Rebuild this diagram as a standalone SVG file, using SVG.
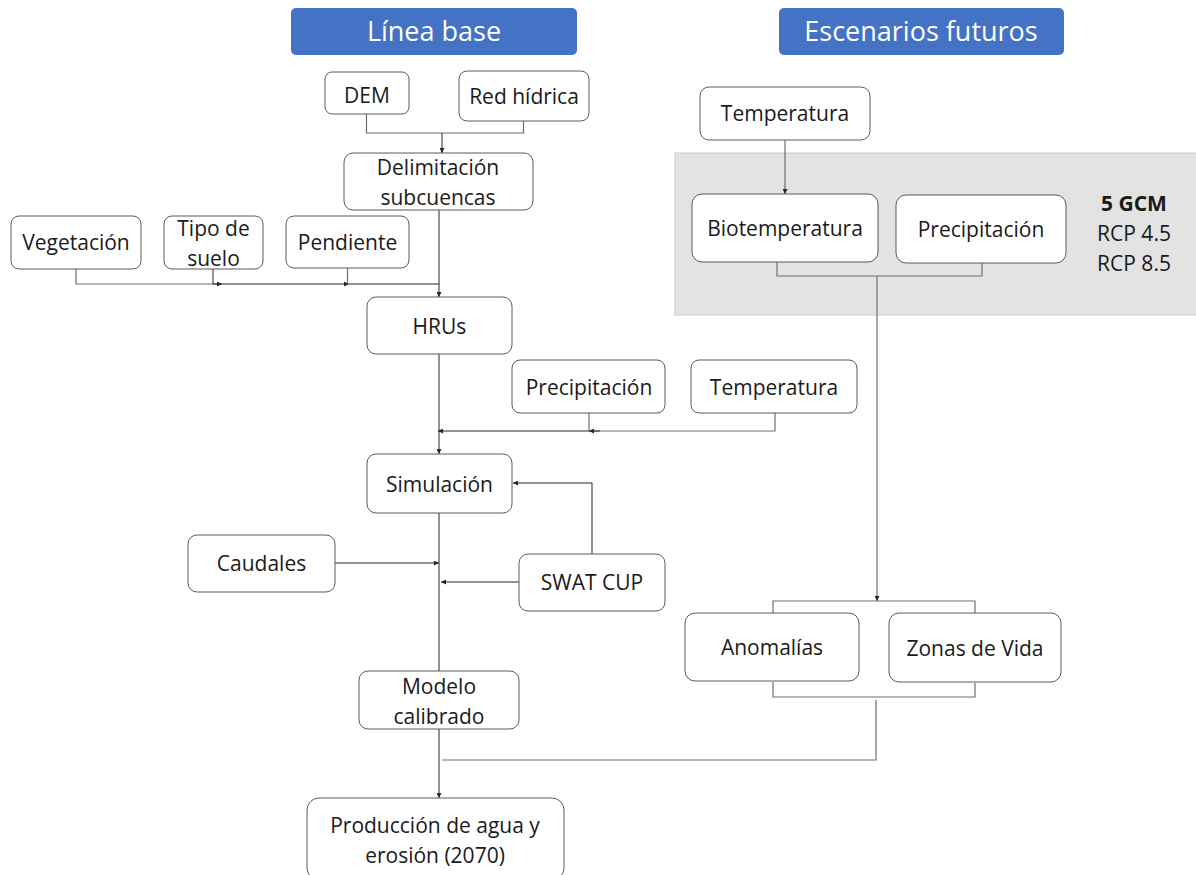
<svg xmlns="http://www.w3.org/2000/svg" width="1196" height="875" viewBox="0 0 1196 875">
<defs>
<marker id="ah" viewBox="0 0 6 6" refX="6" refY="3" markerWidth="5" markerHeight="5" orient="auto" markerUnits="userSpaceOnUse">
<path d="M0,0 L6,3 L0,6 z" fill="#262626"/>
</marker>
</defs>
<style>
.box{fill:#ffffff;stroke:#5a5a5a;stroke-width:1}
.t{font-family:"Open Sans","Liberation Sans",sans-serif;font-size:21px;fill:#1a1a1a;text-anchor:middle}
.title{font-family:"Open Sans","Liberation Sans",sans-serif;font-size:27px;fill:#ffffff;text-anchor:middle}
.c{fill:none;stroke:#262626;stroke-width:1}
.g{fill:none;stroke:#6e6e6e;stroke-width:1.2}
</style>
<rect width="1196" height="875" fill="#ffffff"/>

<g id="panel">
<rect x="675" y="153" width="525" height="162" fill="#e3e3e3" stroke="#c6ccd4" stroke-width="1"/>
</g>

<g id="title-linea">
<rect x="291" y="8" width="286" height="47" rx="5" fill="#4472c4"/>
<text class="title" x="434" y="41">Línea base</text>
</g>
<g id="title-escenarios">
<rect x="779" y="8" width="285" height="47" rx="5" fill="#4472c4"/>
<text class="title" x="921" y="41">Escenarios futuros</text>
</g>

<g id="connectors">
<path class="g" d="M366.5,113 V133 H523.5 V121"/>
<path class="c" d="M442,133 V153" marker-end="url(#ah)"/>
<path class="c" d="M439,210 V297" marker-end="url(#ah)"/>
<path class="g" d="M76,269 V284 H222"/>
<path class="c" d="M213,269 V284 H222" marker-end="url(#ah)"/>
<path class="c" d="M222,284 H349" marker-end="url(#ah)"/>
<path class="g" d="M347.5,268 V284"/>
<path class="c" d="M349,284 H439"/>
<path class="c" d="M439,354 V454" marker-end="url(#ah)"/>
<path class="g" d="M775,413 V431 H589"/>
<path class="c" d="M600,431 H589" marker-end="url(#ah)"/>
<path class="g" d="M589,413 V431"/>
<path class="c" d="M589,431 H438" marker-end="url(#ah)"/>
<path class="c" d="M592,554 V483 H513" marker-end="url(#ah)"/>
<path class="c" d="M439,513 V671"/>
<path class="c" d="M335,563 H439" marker-end="url(#ah)"/>
<path class="c" d="M519,582 H441" marker-end="url(#ah)"/>
<path class="c" d="M439,729 V798" marker-end="url(#ah)"/>
<path class="g" d="M785,140 V194" marker-end="url(#ah)"/>
<path class="g" d="M777,262 V276 H982 V263"/>
<path class="g" d="M877,276 V601" marker-end="url(#ah)"/>
<path class="g" d="M773,613 V601 H975 V613"/>
<path class="g" d="M773,682 V697 H975 V683"/>
<path class="g" d="M876,700 V760 H442"/>
</g>

<g id="dem"><rect class="box" x="325" y="72" width="84" height="42" rx="7"/><text class="t" x="367" y="103">DEM</text></g>
<g id="red-hidrica"><rect class="box" x="459" y="71" width="130" height="50" rx="8"/><text class="t" x="524" y="104">Red hídrica</text></g>
<g id="delimitacion"><rect class="box" x="344" y="153" width="189" height="57" rx="9"/><text class="t" x="438" y="175">Delimitación</text><text class="t" x="438" y="205">subcuencas</text></g>
<g id="vegetacion"><rect class="box" x="11" y="216" width="130" height="53" rx="8"/><text class="t" x="76" y="250">Vegetación</text></g>
<g id="tipo-suelo"><rect class="box" x="164" y="216" width="99" height="53" rx="8"/><text class="t" x="213.5" y="236">Tipo de</text><text class="t" x="213.5" y="266">suelo</text></g>
<g id="pendiente"><rect class="box" x="286" y="216" width="123" height="52" rx="8"/><text class="t" x="347.5" y="250">Pendiente</text></g>
<g id="hrus"><rect class="box" x="367" y="297" width="145" height="57" rx="9"/><text class="t" x="439.5" y="334">HRUs</text></g>
<g id="precipitacion"><rect class="box" x="512" y="360" width="153" height="53" rx="8"/><text class="t" x="589" y="395">Precipitación</text></g>
<g id="temperatura"><rect class="box" x="691" y="360" width="166" height="53" rx="8"/><text class="t" x="774" y="395">Temperatura</text></g>
<g id="simulacion"><rect class="box" x="367" y="454" width="145" height="59" rx="9"/><text class="t" x="439.5" y="492">Simulación</text></g>
<g id="caudales"><rect class="box" x="188" y="535" width="147" height="57" rx="9"/><text class="t" x="261.5" y="571">Caudales</text></g>
<g id="swat-cup"><rect class="box" x="519" y="554" width="146" height="57" rx="9"/><text class="t" x="592" y="590">SWAT CUP</text></g>
<g id="modelo"><rect class="box" x="359" y="671" width="160" height="58" rx="9"/><text class="t" x="439" y="694">Modelo</text><text class="t" x="439" y="724">calibrado</text></g>
<g id="produccion"><rect class="box" x="307" y="798" width="257" height="82" rx="12"/><text class="t" x="435" y="833">Producción de agua y</text><text class="t" x="435" y="863">erosión (2070)</text></g>

<g id="temperatura-futuro"><rect class="box" x="700" y="87" width="170" height="53" rx="9"/><text class="t" x="785" y="121">Temperatura</text></g>
<g id="biotemperatura"><rect class="box" x="692" y="194" width="186" height="68" rx="10"/><text class="t" x="785" y="236">Biotemperatura</text></g>
<g id="precipitacion-futuro"><rect class="box" x="896" y="195" width="170" height="68" rx="10"/><text class="t" x="981" y="237">Precipitación</text></g>
<g id="gcm">
<text class="t" x="1134" y="211" font-weight="bold">5 GCM</text>
<text class="t" x="1134" y="241">RCP 4.5</text>
<text class="t" x="1134" y="271">RCP 8.5</text>
</g>
<g id="anomalias"><rect class="box" x="685" y="613" width="174" height="68" rx="10"/><text class="t" x="772" y="655">Anomalías</text></g>
<g id="zonas-vida"><rect class="box" x="889" y="613" width="172" height="69" rx="10"/><text class="t" x="975" y="656">Zonas de Vida</text></g>
</svg>
